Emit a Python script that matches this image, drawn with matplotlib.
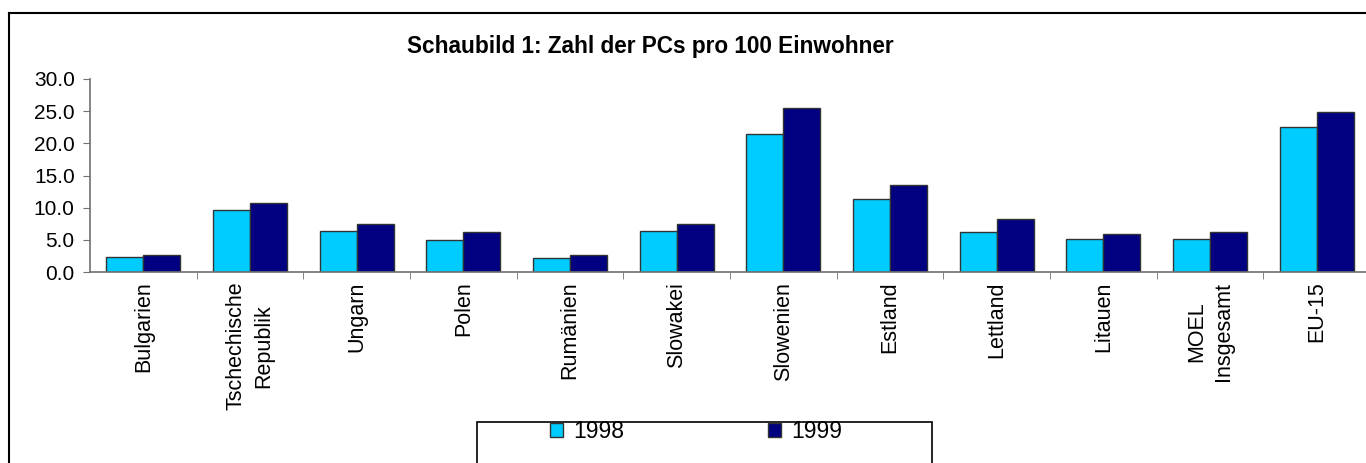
import matplotlib
matplotlib.use("Agg")
import matplotlib.pyplot as plt
from matplotlib.patches import Rectangle
from matplotlib.lines import Line2D
import numpy as np

plt.rcParams['font.family'] = ['Liberation Sans', 'DejaVu Sans']

categories = ["Bulgarien", "Tschechische\nRepublik", "Ungarn", "Polen", "Rumänien",
              "Slowakei", "Slowenien", "Estland", "Lettland", "Litauen",
              "MOEL\nInsgesamt", "EU-15"]
values_1998 = [2.4, 9.6, 6.4, 4.9, 2.1, 6.4, 21.4, 11.4, 6.2, 5.2, 5.2, 22.6]
values_1999 = [2.7, 10.8, 7.4, 6.2, 2.7, 7.4, 25.5, 13.6, 8.3, 5.9, 6.2, 24.9]
series_labels = ["1998", "1999"]
yticks = [0, 5, 10, 15, 20, 25, 30]
title = "Schaubild 1: Zahl der PCs pro 100 Einwohner"

W, H = 1366, 463
fig = plt.figure(figsize=(W / 100, H / 100), dpi=100)

# outer chart frame (top and left edges visible)
fig.add_artist(Line2D([9 / W, 9 / W], [0, 1 - 13 / H], color='black', lw=1.5,
                      transform=fig.transFigure))
fig.add_artist(Line2D([9 / W, 1], [1 - 13 / H, 1 - 13 / H], color='black', lw=1.5,
                      transform=fig.transFigure))

left, right, top, bottom = 90, 1370, 79, 272
ax = fig.add_axes([left / W, 1 - bottom / H, (right - left) / W, (bottom - top) / H])

x = np.arange(len(categories))
bw = 0.347
c1, c2 = '#00CCFF', '#000080'
b1 = ax.bar(x - bw / 2, values_1998, bw, color=c1, edgecolor='#333333', linewidth=1,
            label=series_labels[0])
b2 = ax.bar(x + bw / 2, values_1999, bw, color=c2, edgecolor='#333333', linewidth=1,
            label=series_labels[1])

ax.set_xlim(-0.5, len(categories) - 0.5)
ax.set_ylim(0, 30)
ax.set_yticks(yticks)
ax.set_yticklabels([f"{v:.1f}" for v in yticks], fontsize=15)

ax.set_xticks(x)
ax.set_xticklabels(categories, rotation=90, fontsize=15.5, multialignment='center',
                   va='top', linespacing=1.4)
ax.tick_params(axis='x', which='major', length=0, pad=7)
ax.set_xticks(np.arange(0.5, len(categories) - 0.5, 1), minor=True)
ax.tick_params(axis='x', which='minor', length=5, direction='out', color='#707070')
ax.tick_params(axis='y', length=5, direction='out', color='#707070', pad=6)

for s in ['top', 'right']:
    ax.spines[s].set_visible(False)
for s in ['left', 'bottom']:
    ax.spines[s].set_color('#707070')
    ax.spines[s].set_linewidth(1.2)

fig.text(650 / W, 1 - 46 / H, title, ha='center', va='center', fontsize=16.3,
         fontweight='bold')

# legend box (extends below the image edge)
fig.add_artist(Rectangle((477 / W, -0.05), (932 - 477) / W, 0.05 + (463 - 422) / H,
                         transform=fig.transFigure, facecolor='none', edgecolor='black',
                         lw=1.2))
fig.legend(handles=[b1, b2], labels=series_labels, ncol=2, frameon=False,
           loc='center left', bbox_to_anchor=(550 / W, 1 - 432 / H), fontsize=16.5,
           handlelength=0.55, handleheight=0.55, handletextpad=0.45, columnspacing=6.3,
           borderpad=0, borderaxespad=0)

fig.savefig("out.png", dpi=100)
